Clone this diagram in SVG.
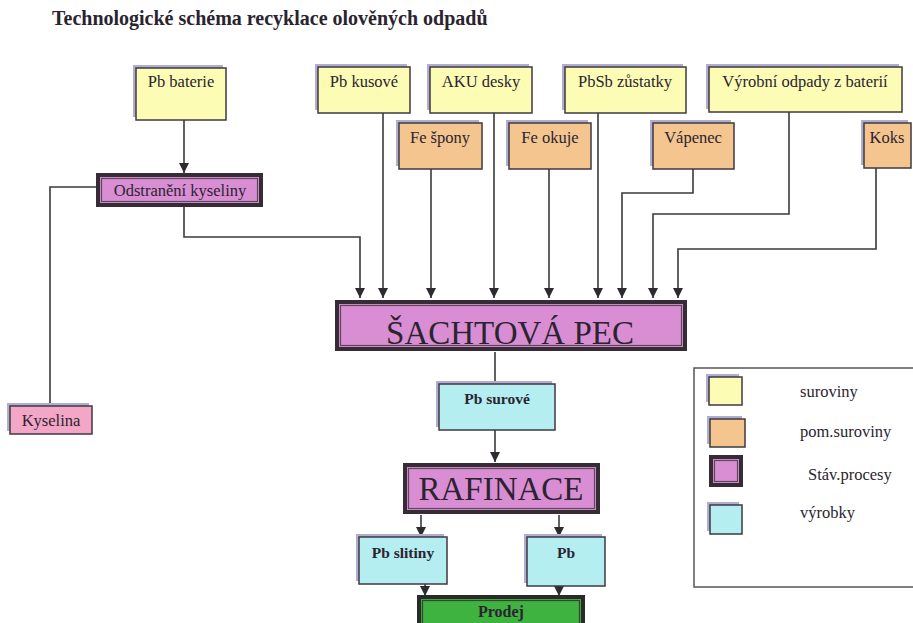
<svg xmlns="http://www.w3.org/2000/svg" width="913" height="623" viewBox="0 0 913 623">
<defs>
<marker id="ah" viewBox="0 0 10 10" refX="10" refY="5" markerWidth="10" markerHeight="10" markerUnits="userSpaceOnUse" orient="auto">
<path d="M0,0 L10,5 L0,10 z" fill="#2e2a30"/>
</marker>
<style>
text{font-family:"Liberation Serif","Times New Roman",serif;fill:#2a2430;}
.lbl{font-size:16.5px;text-anchor:middle;}
.blbl{font-size:15.5px;font-weight:bold;text-anchor:middle;}
.leg{font-size:16.5px;}
.shadow{fill:#b0aed0;}
.box{stroke:#3e3a40;stroke-width:1.5;}
.y{fill:#fdfcb5;}
.o{fill:#f5c590;}
.c{fill:#b5eef0;}
.k{fill:#f4a6c6;}
.proc{fill:#d98ed3;stroke:#362c36;stroke-width:4;}
.inner{fill:none;stroke:#5a4a58;stroke-width:1.2;}
.conn{fill:none;stroke:#3a3a3e;stroke-width:1.6;}
.arr{marker-end:url(#ah);}
</style>
</defs>
<rect width="913" height="623" fill="#ffffff"/>
<text x="52" y="25" style="font-size:20px;font-weight:bold;">Technologické schéma recyklace olověných odpadů</text>

<g id="connectors">
<path class="conn arr" d="M184,120 V173"/>
<path class="conn" d="M96,187 H50 V406"/>
<path class="conn arr" d="M184,207 V237 H360 V298"/>
<path class="conn arr" d="M383,113 V298"/>
<path class="conn arr" d="M431,168 V298"/>
<path class="conn arr" d="M494,111 V298"/>
<path class="conn arr" d="M549,168 V298"/>
<path class="conn arr" d="M598,113 V298"/>
<path class="conn arr" d="M693,169 V193 H622 V298"/>
<path class="conn arr" d="M789,111 V214 H653 V298"/>
<path class="conn arr" d="M876,168 V249 H678 V298"/>
<path class="conn" d="M495,352 V384"/>
<path class="conn arr" d="M495,430 V462"/>
<path class="conn arr" d="M421,515 V537"/>
<path class="conn arr" d="M559,515 V537"/>
<path class="conn arr" d="M425,584 V596"/>
<path class="conn arr" d="M559,586 V596"/>
</g>

<g id="pb-baterie">
<rect class="shadow" x="133" y="65" width="90" height="52"/>
<rect class="box y" x="136" y="68" width="90" height="52"/>
<text class="lbl" x="181" y="87">Pb baterie</text>
</g>
<g id="odstraneni">
<rect class="proc" x="98" y="175" width="163" height="30"/>
<rect class="inner" x="101.5" y="178.5" width="156" height="23"/>
<text class="lbl" x="180" y="196">Odstranění kyseliny</text>
</g>
<g id="kyselina">
<rect class="shadow" x="7" y="403" width="82" height="28"/>
<rect class="box k" x="10" y="406" width="82" height="28"/>
<text class="lbl" x="51" y="426">Kyselina</text>
</g>
<g id="pb-kusove">
<rect class="shadow" x="315" y="64" width="92" height="46"/>
<rect class="box y" x="318" y="67" width="92" height="46"/>
<text class="lbl" x="364" y="87">Pb kusové</text>
</g>
<g id="aku-desky">
<rect class="shadow" x="427" y="64" width="102" height="46"/>
<rect class="box y" x="430" y="67" width="102" height="46"/>
<text class="lbl" x="481" y="87">AKU desky</text>
</g>
<g id="pbsb">
<rect class="shadow" x="562" y="64" width="121" height="46"/>
<rect class="box y" x="565" y="67" width="121" height="46"/>
<text class="lbl" x="625" y="87">PbSb zůstatky</text>
</g>
<g id="vyrobni">
<rect class="shadow" x="706" y="64" width="193" height="45"/>
<rect class="box y" x="709" y="67" width="193" height="45"/>
<text class="lbl" x="805" y="87">Výrobní odpady z baterií</text>
</g>
<g id="fe-spony">
<rect class="shadow" x="396" y="120" width="83" height="46"/>
<rect class="box o" x="399" y="123" width="83" height="46"/>
<text class="lbl" x="440" y="143">Fe špony</text>
</g>
<g id="fe-okuje">
<rect class="shadow" x="506" y="120" width="82" height="46"/>
<rect class="box o" x="509" y="123" width="82" height="46"/>
<text class="lbl" x="550" y="143">Fe okuje</text>
</g>
<g id="vapenec">
<rect class="shadow" x="650" y="120" width="81" height="46"/>
<rect class="box o" x="653" y="123" width="81" height="46"/>
<text class="lbl" x="693" y="143">Vápenec</text>
</g>
<g id="koks">
<rect class="shadow" x="861" y="120" width="47" height="45"/>
<rect class="box o" x="864" y="123" width="47" height="45"/>
<text class="lbl" x="887" y="143">Koks</text>
</g>
<g id="sachtova-pec">
<rect class="proc" x="337" y="302" width="348" height="47"/>
<rect class="inner" x="340.5" y="305.5" width="341" height="40"/>
<text x="510" y="344" style="font-size:33px;text-anchor:middle;">ŠACHTOVÁ PEC</text>
</g>
<g id="pb-surove">
<rect class="shadow" x="436" y="381" width="116" height="46"/>
<rect class="box c" x="439" y="384" width="116" height="46"/>
<text class="blbl" x="497" y="404">Pb surové</text>
</g>
<g id="rafinace">
<rect class="proc" x="405" y="465" width="193" height="47"/>
<rect class="inner" x="408.5" y="468.5" width="186" height="40"/>
<text x="501" y="500" style="font-size:33px;text-anchor:middle;">RAFINACE</text>
</g>
<g id="pb-slitiny">
<rect class="shadow" x="356" y="534" width="88" height="47"/>
<rect class="box c" x="359" y="537" width="88" height="47"/>
<text class="blbl" x="403" y="558">Pb slitiny</text>
</g>
<g id="pb">
<rect class="shadow" x="524" y="534" width="78" height="49"/>
<rect class="box c" x="527" y="537" width="78" height="49"/>
<text class="blbl" x="566" y="558">Pb</text>
</g>
<g id="prodej">
<rect x="419" y="597" width="164" height="40" fill="#3fb33f" stroke="#2a2a2a" stroke-width="4"/>
<rect class="inner" x="422.5" y="600.5" width="157" height="40" style="stroke:#334433"/>
<text x="501" y="617" style="font-size:16px;font-weight:bold;text-anchor:middle;">Prodej</text>
</g>
<g id="legend">
<path d="M915,368 H694 V587 H915" fill="none" stroke="#555" stroke-width="1.5"/>
<rect class="shadow" x="706" y="374" width="33" height="28"/>
<rect class="box y" x="709" y="377" width="33" height="28"/>
<text class="leg" x="800" y="397">suroviny</text>
<rect class="shadow" x="707" y="416" width="35" height="28"/>
<rect class="box o" x="710" y="419" width="35" height="28"/>
<text class="leg" x="800" y="437">pom.suroviny</text>
<rect class="proc" x="711" y="457" width="30" height="28"/>
<rect class="inner" x="714.5" y="460.5" width="23" height="21"/>
<text class="leg" x="808" y="480">Stáv.procesy</text>
<rect class="shadow" x="707" y="502" width="32" height="29"/>
<rect class="box c" x="710" y="505" width="32" height="29"/>
<text class="leg" x="800" y="518">výrobky</text>
</g>
</svg>
